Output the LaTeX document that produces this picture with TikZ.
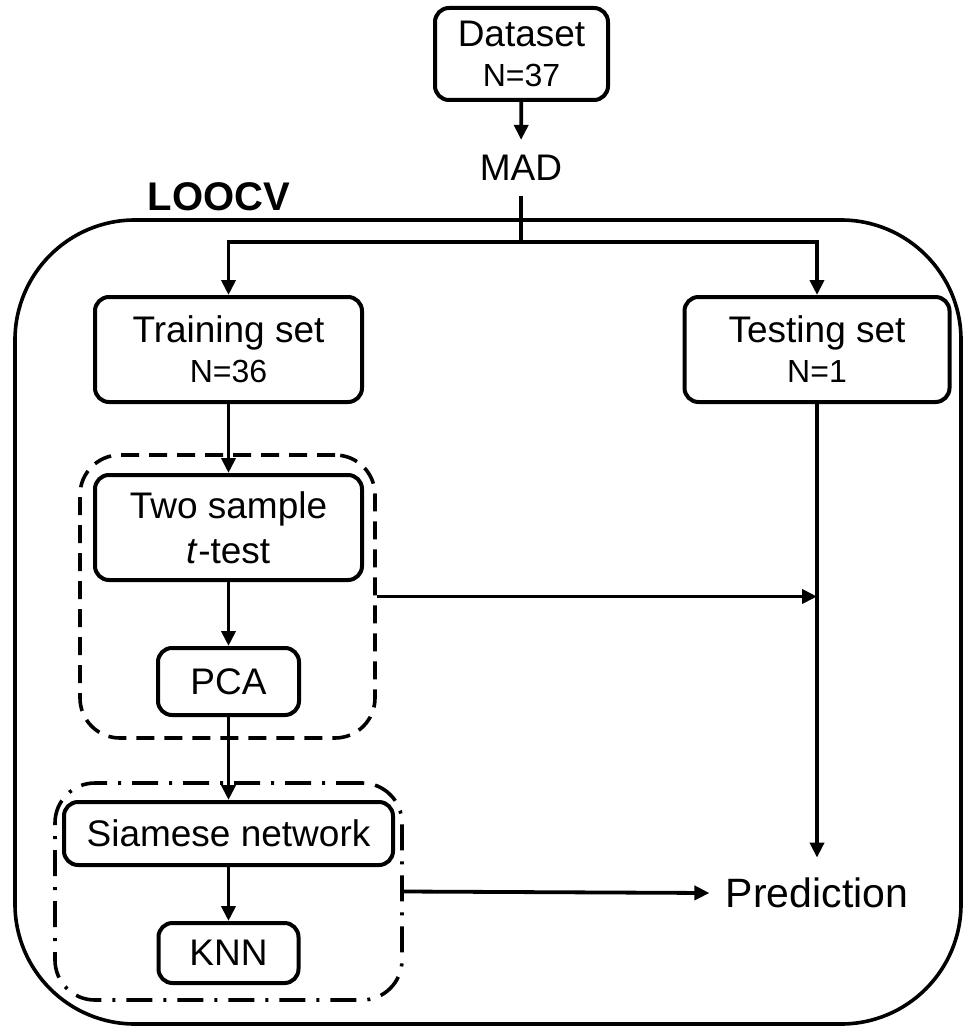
\documentclass[tikz,border=0pt]{standalone}
\usepackage{fontspec}
\setmainfont{Liberation Sans}
\usetikzlibrary{arrows.meta}
\usetikzlibrary{positioning}
\usetikzlibrary{calc}

\newcommand{\ncount}[1]{{\fontsize{16}{20}\selectfont #1}}

\begin{document}
\begin{tikzpicture}[x=0.5pt,y=-0.5pt,>={Triangle[length=7.5pt,width=7pt]},
                      txt/.style={font=\fontsize{18.5}{20}\selectfont},
                      box/.style={txt,draw,line width=2pt,rounded corners=7pt,align=center,inner sep=0pt},
                      conn/.style={line width=1.9pt,->},
                      group/.style={draw,line width=1.8pt,rounded corners=20pt,inner sep=0pt},
                      ]
    \useasboundingbox (0,0) rectangle (964,1027);

    % outer LOOCV frame
    \node[group,rounded corners=60pt,minimum width=473pt,minimum height=402pt] (loop) at (488,622) {};
    \node[font=\fontsize{20}{24}\selectfont\bfseries] (loocv) at (219,197) {LOOCV};

    \node[box,minimum width=86.5pt,minimum height=46pt] (dataset) at (521.5,54) {Dataset\\\ncount{N=37}};
    \node[txt,inner sep=7.5pt] (mad) at (521,168) {MAD};
    \coordinate (split) at (521,242);

    \node[box,minimum width=133.5pt,minimum height=52.5pt] (train) at (228.5,349.5) {Training set\\\ncount{N=36}};
    \node[box,minimum width=132.5pt,minimum height=52.5pt] (test) at (817,349.5) {Testing set\\\ncount{N=1}};

    % feature selection group
    \node[group,dash pattern=on 9pt off 5pt,minimum width=147.5pt,minimum height=141.5pt] (selbox) at (227.5,596.5) {};
    \node[box,minimum width=133.5pt,minimum height=52.5pt] (ttest) at (228.5,527.5) {Two sample\\[2.5pt]\textit{t}-test};
    \node[box,minimum width=70.5pt,minimum height=33.5pt] (pca) at (228.5,681.5) {PCA};

    % classifier group
    \node[group,dash pattern=on 13pt off 5.5pt on 1.5pt off 5.5pt,minimum width=173.5pt,minimum height=108.5pt] (clsbox) at (228.5,891.5) {};
    \node[box,minimum width=164.5pt,minimum height=31.5pt] (siamese) at (228.5,833.5) {Siamese network};
    \node[box,minimum width=70pt,minimum height=30pt] (knn) at (228.5,953) {KNN};

    \node[font=\fontsize{20.5}{24}\selectfont,inner xsep=8pt,inner ysep=0pt,minimum height=35pt] (pred) at (817,893) {Prediction};

    \draw[conn] (dataset) -- (mad);
    \draw[conn,-] (mad.south) -- (split);
    \draw[conn] (split) -| (train.north);
    \draw[conn] (split) -| (test.north);
    \draw[conn] (train) -- (ttest);
    \draw[conn] (ttest) -- (pca);
    \draw[conn] (pca) -- (siamese);
    \draw[conn] (siamese) -- (knn);
    \draw[conn] (test) -- (pred);
    \draw[conn] (selbox.east) -- (selbox.east -| test.south);
    \draw[conn] (clsbox.east) -- (pred.west);
\end{tikzpicture}
\end{document}
